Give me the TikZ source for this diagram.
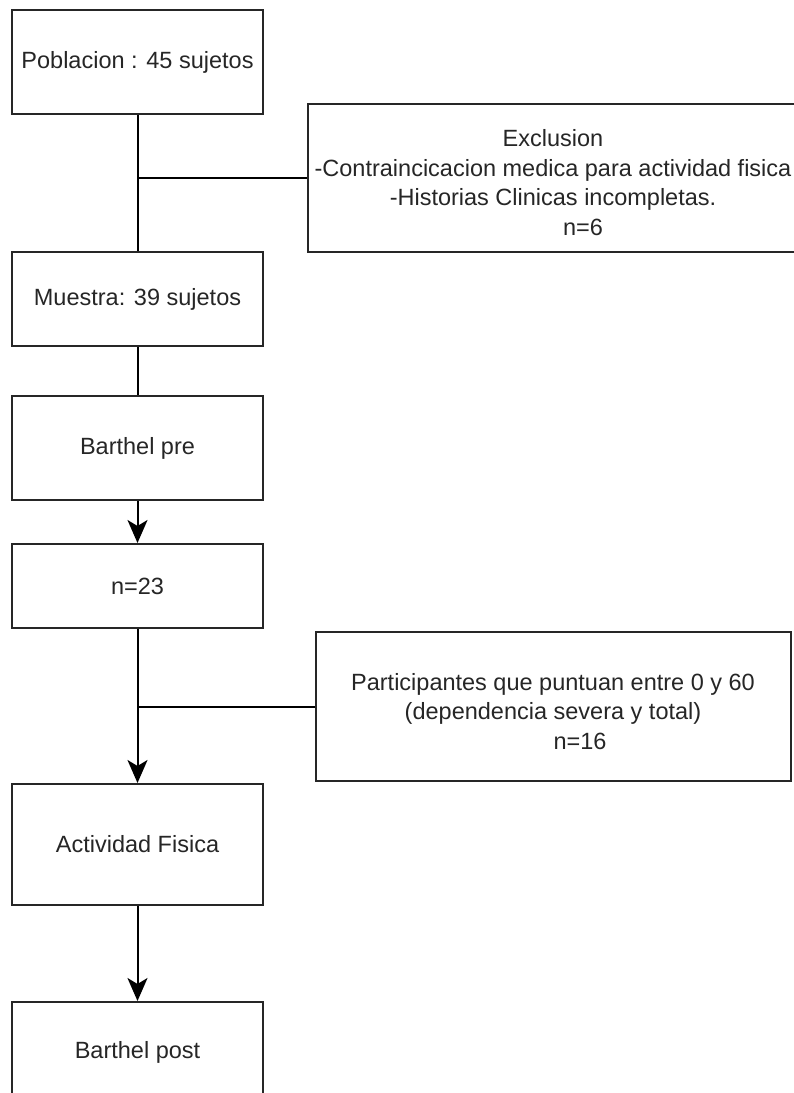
\documentclass[tikz,border=0pt]{standalone}
\usepackage{fontspec}
\setmainfont{Liberation Sans}
\usetikzlibrary{arrows.meta}
\begin{document}
\begin{tikzpicture}[x=1pt,y=-1pt,
  stepbox/.style={draw=black!85, line width=2pt, rectangle, minimum width=251pt, inner sep=0pt, text=black!85},
  sidebox/.style={draw=black!85, line width=2pt, rectangle, inner sep=0pt},
  txt/.style={text=black!85, align=center, inner sep=0pt, font=\fontsize{23.5pt}{29.5pt}\selectfont},
  link/.style={draw=black, line width=2pt},
  arr/.style={link, -{Stealth[length=23pt, width=20pt, inset=6pt]}}
]
\useasboundingbox[fill=white] (0,0) rectangle (793,1093);
\begin{scope}[every node/.append style={font=\fontsize{23.5pt}{29.5pt}\selectfont}]
\node[stepbox, minimum height=104pt] (pob) at (137.5,62) {Poblacion : 45 sujetos};
\node[stepbox, minimum height=94pt] (mue) at (137.5,299) {Muestra: 39 sujetos};
\node[stepbox, minimum height=104pt] (bpre) at (137.5,448) {Barthel pre};
\node[stepbox, minimum height=84pt] (n23) at (137.5,586) {n=23};
\node[stepbox, minimum height=121pt] (act) at (137.5,844.5) {Actividad Fisica};
\node[stepbox, minimum height=100pt] (bpost) at (137.5,1052) {Barthel post};
\end{scope}
\node[sidebox, minimum width=492pt, minimum height=148pt] (excl) at (554,178) {};
\node[txt] (excltext) at (553,182.5) {Exclusion\\-Contraincicacion medica para actividad fisica\\-Historias Clinicas incompletas.\\\hspace*{60pt}n=6};
\node[sidebox, minimum width=475pt, minimum height=149pt] (part) at (553.5,706.5) {};
\node[txt] (parttext) at (553,711.5) {Participantes que puntuan entre 0 y 60\\(dependencia severa y total)\\\hspace*{54pt}n=16};
\draw[link] (pob.south) -- (mue.north);
\draw[link] (excl.west) -- (excl.west -| pob.south);
\draw[link] (mue.south) -- (bpre.north);
\draw[arr] (bpre.south) -- (n23.north);
\draw[arr] (n23.south) -- (act.north);
\draw[link] (part.west) -- (part.west -| n23.south);
\draw[arr] (act.south) -- (bpost.north);
\end{tikzpicture}
\end{document}
